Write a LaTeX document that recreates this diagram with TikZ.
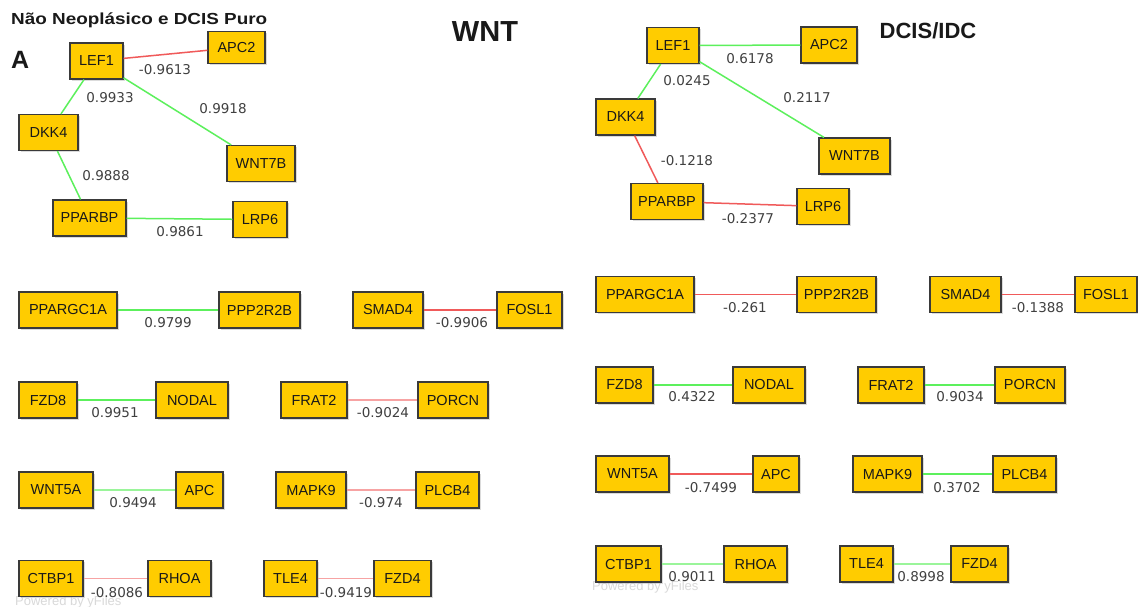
\documentclass[tikz,border=0pt]{standalone}
\usepackage{fontspec}
\setmainfont{Liberation Sans}
\newfontfamily\lblfont{DejaVu Sans}
\usetikzlibrary{shadows}
\definecolor{boxfill}{HTML}{FFCC00}
\definecolor{boxline}{HTML}{3A3A3A}
\definecolor{eg}{HTML}{5CF05C}
\definecolor{egl}{HTML}{9AF59A}
\definecolor{er}{HTML}{F05A5A}
\definecolor{erl}{HTML}{F7A3A3}
\definecolor{lbl}{HTML}{404040}
\definecolor{wm}{HTML}{D9D9D9}
\tikzset{
  gene/.style={draw=boxline, line width=1.2pt, fill=boxfill, inner sep=0pt,
    minimum height=36pt, text=black!90,
    font=\fontsize{14.5}{16}\selectfont,
    drop shadow={shadow xshift=1.6pt, shadow yshift=-1.6pt, fill=black!28}},
  gpos/.style={draw=eg, line width=1.5pt},
  gposl/.style={draw=egl, line width=1.5pt},
  gneg/.style={draw=er, line width=1.5pt},
  gnegl/.style={draw=erl, line width=1.5pt},
  val/.style={text=lbl, inner sep=0pt, font=\lblfont\fontsize{13.5}{15}\selectfont},
  ttl/.style={inner sep=0pt, text=black!90},
  wmark/.style={inner sep=0pt, text=wm, font=\fontsize{13}{15}\selectfont}
}
\newcommand\gn[5]{\node[gene, minimum width=#4pt] (#1) at (#2,#3) {#5};}
\begin{document}
\begin{tikzpicture}[x=1pt,y=-1pt]
\useasboundingbox[fill=white] (0,0) rectangle (1138,606);
% titles
\node[ttl, anchor=west, font=\bfseries\fontsize{16}{18}\selectfont, xscale=1.18] (t1) at (11,20) {Não Neoplásico e DCIS Puro};
\node[ttl, anchor=west, font=\bfseries\fontsize{25}{27}\selectfont] (tA) at (11,60) {A};
\node[ttl, font=\bfseries\fontsize{29}{31}\selectfont] (tW) at (485,32) {WNT};
\node[ttl, font=\bfseries\fontsize{22}{24}\selectfont] (tD) at (928,31) {DCIS/IDC};
% watermarks
\node[wmark, anchor=west] (w1) at (15,602) {Powered by yFiles};
\node[wmark, anchor=west] (w2) at (592,587) {Powered by yFiles};
% ---------- left panel nodes
\gn{lLEF1}{96.5}{61}{53}{LEF1}
\node[gene, minimum width=57pt, minimum height=32pt] (lAPC2) at (236.5,47.5) {APC2};
\gn{lDKK4}{48.5}{132.5}{59}{DKK4}
\gn{lWNT7B}{261}{163.5}{68}{WNT7B}
\gn{lPPARBP}{89.5}{218}{73}{PPARBP}
\gn{lLRP6}{260}{219.5}{54}{LRP6}
\gn{lPPARGC1A}{68}{310}{98}{PPARGC1A}
\gn{lPPP2R2B}{259.5}{310}{81}{PPP2R2B}
\gn{lSMAD4}{388}{310}{70}{SMAD4}
\gn{lFOSL1}{529.5}{310}{65}{FOSL1}
\gn{lFZD8}{48}{400}{58}{FZD8}
\gn{lNODAL}{192}{400}{72}{NODAL}
\gn{lFRAT2}{314}{400}{66}{FRAT2}
\gn{lPORCN}{453}{400}{70}{PORCN}
\gn{lWNT5A}{56}{490}{74}{WNT5A}
\gn{lAPC}{199.5}{490}{47}{APC}
\gn{lMAPK9}{311}{490}{70}{MAPK9}
\gn{lPLCB4}{447.5}{490}{63}{PLCB4}
\gn{lCTBP1}{51}{578.5}{64}{CTBP1}
\gn{lRHOA}{179.5}{578.5}{63}{RHOA}
\gn{lTLE4}{290.5}{578.5}{53}{TLE4}
\gn{lFZD4}{402.5}{578.5}{57}{FZD4}
% ---------- right panel nodes
\gn{rLEF1}{673}{45.5}{52}{LEF1}
\gn{rAPC2}{829}{45}{56}{APC2}
\gn{rDKK4}{625.5}{117}{59}{DKK4}
\gn{rWNT7B}{854.5}{156}{71}{WNT7B}
\gn{rPPARBP}{667}{201.5}{72}{PPARBP}
\gn{rLRP6}{823}{206.5}{52}{LRP6}
\gn{rPPARGC1A}{645}{294.5}{98}{PPARGC1A}
\gn{rPPP2R2B}{836.5}{294.5}{79}{PPP2R2B}
\gn{rSMAD4}{965.5}{294.5}{71}{SMAD4}
\gn{rFOSL1}{1106}{294.5}{62}{FOSL1}
\gn{rFZD8}{624.5}{385}{57}{FZD8}
\gn{rNODAL}{769}{385}{72}{NODAL}
\gn{rFRAT2}{891}{385}{66}{FRAT2}
\gn{rPORCN}{1030}{385}{70}{PORCN}
\gn{rWNT5A}{632.5}{474}{73}{WNT5A}
\gn{rAPC}{776}{474}{46}{APC}
\gn{rMAPK9}{887.5}{474}{69}{MAPK9}
\gn{rPLCB4}{1024.5}{474}{63}{PLCB4}
\gn{rCTBP1}{628.5}{564}{65}{CTBP1}
\gn{rRHOA}{755.5}{564}{63}{RHOA}
\gn{rTLE4}{866.5}{564}{53}{TLE4}
\gn{rFZD4}{979.5}{564}{57}{FZD4}
% ---------- edges
\draw[gneg] (lLEF1) -- (lAPC2);
\draw[gpos] (lLEF1) -- (lDKK4);
\draw[gpos] (lLEF1) -- (lWNT7B);
\draw[gpos] (lDKK4) -- (lPPARBP);
\draw[gpos] (lPPARBP) -- (lLRP6);
\draw[gpos] (lPPARGC1A) -- (lPPP2R2B);
\draw[gneg] (lSMAD4) -- (lFOSL1);
\draw[gpos] (lFZD8) -- (lNODAL);
\draw[gnegl] (lFRAT2) -- (lPORCN);
\draw[gposl] (lWNT5A) -- (lAPC);
\draw[gnegl] (lMAPK9) -- (lPLCB4);
\draw[gnegl] (lCTBP1) -- (lRHOA);
\draw[gnegl] (lTLE4) -- (lFZD4);
\draw[gpos] (rLEF1) -- (rAPC2);
\draw[gpos] (rLEF1) -- (rDKK4);
\draw[gpos] (rLEF1) -- (rWNT7B);
\draw[gneg] (rDKK4) -- (rPPARBP);
\draw[gneg] (rPPARBP) -- (rLRP6);
\draw[gneg] (rPPARGC1A) -- (rPPP2R2B);
\draw[gneg] (rSMAD4) -- (rFOSL1);
\draw[gpos] (rFZD8) -- (rNODAL);
\draw[gpos] (rFRAT2) -- (rPORCN);
\draw[gneg] (rWNT5A) -- (rAPC);
\draw[gpos] (rMAPK9) -- (rPLCB4);
\draw[gposl] (rCTBP1) -- (rRHOA);
\draw[gposl] (rTLE4) -- (rFZD4);
% ---------- edge labels
\node[val] (v1) at (165,70) {-0.9613};
\node[val] (v2) at (110,98) {0.9933};
\node[val] (v3) at (223,109) {0.9918};
\node[val] (v4) at (106,176) {0.9888};
\node[val] (v5) at (180,232) {0.9861};
\node[val] (v6) at (168,323) {0.9799};
\node[val] (v7) at (462,323) {-0.9906};
\node[val] (v8) at (115,413) {0.9951};
\node[val] (v9) at (383,413) {-0.9024};
\node[val] (v10) at (133,503) {0.9494};
\node[val] (v11) at (381,503) {-0.974};
\node[val] (v12) at (117,593) {-0.8086};
\node[val] (v13) at (346,593) {-0.9419};
\node[val] (u1) at (750,59) {0.6178};
\node[val] (u2) at (687,81) {0.0245};
\node[val] (u3) at (807,98) {0.2117};
\node[val] (u4) at (687,161) {-0.1218};
\node[val] (u5) at (748,219) {-0.2377};
\node[val] (u6) at (745,308) {-0.261};
\node[val] (u7) at (1038,308) {-0.1388};
\node[val] (u8) at (692,397) {0.4322};
\node[val] (u9) at (960,397) {0.9034};
\node[val] (u10) at (711,488) {-0.7499};
\node[val] (u11) at (957,488) {0.3702};
\node[val] (u12) at (692,577) {0.9011};
\node[val] (u13) at (921,577) {0.8998};
\end{tikzpicture}
\end{document}
